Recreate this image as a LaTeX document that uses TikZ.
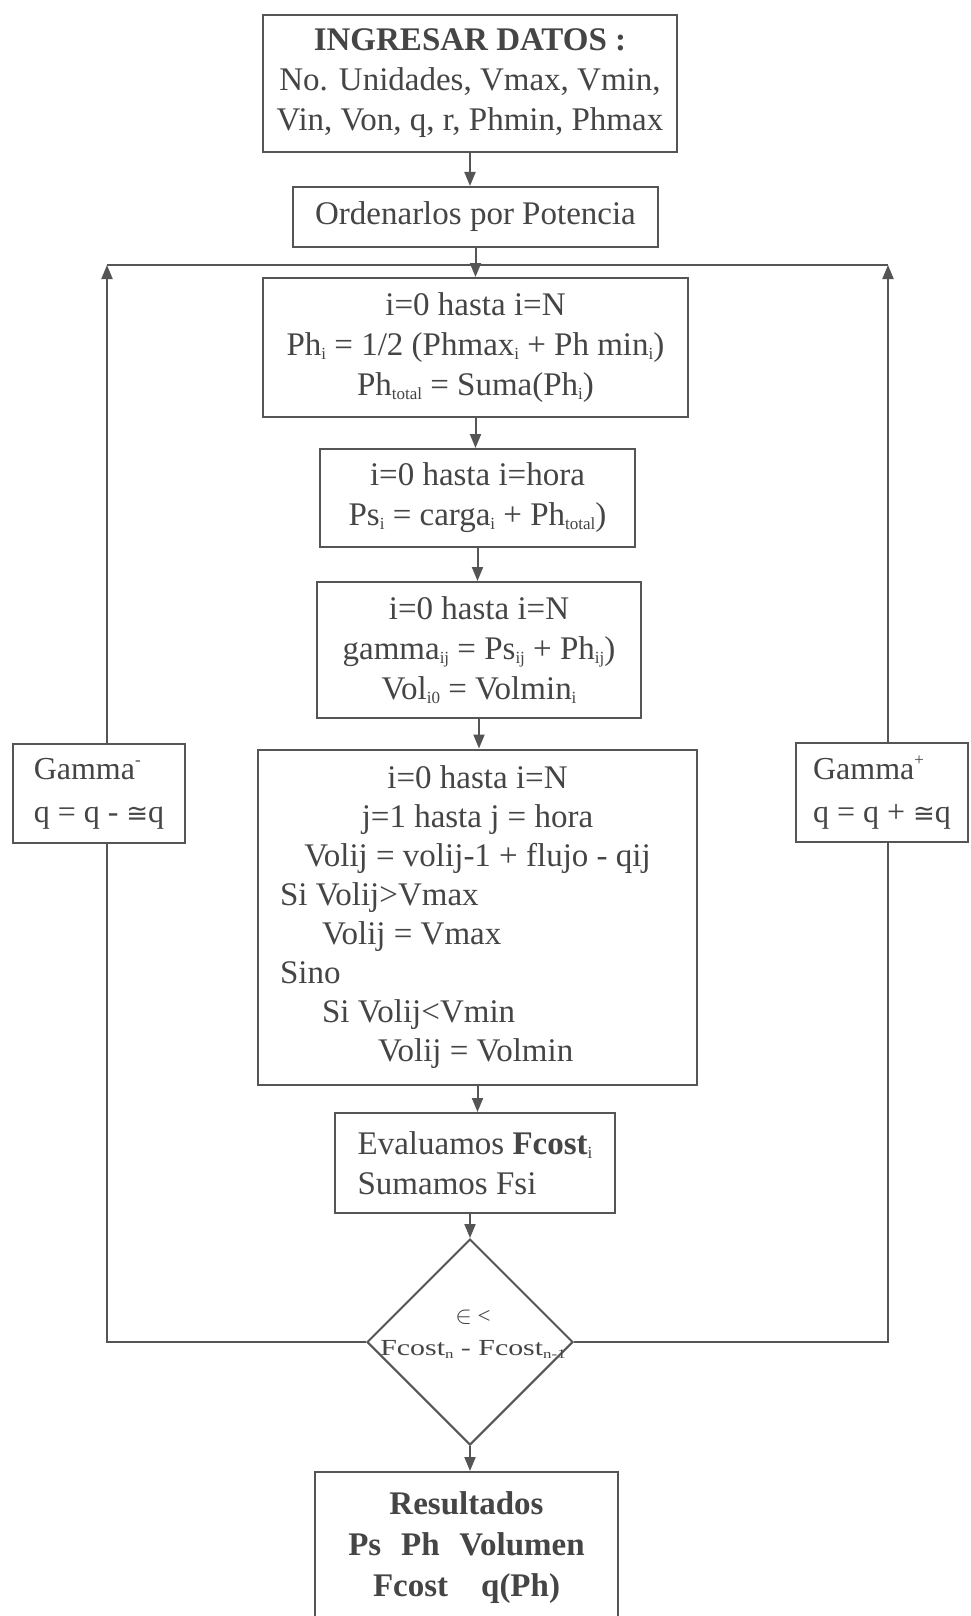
\documentclass[tikz,border=0pt]{standalone}
\usepackage{fontspec}
\setmainfont{Liberation Serif}
\newfontfamily\symf{DejaVu Sans}
\usepackage{graphicx}
\usetikzlibrary{shapes.geometric,arrows.meta}
\definecolor{ink}{HTML}{555555}
\definecolor{txt}{HTML}{454545}
\newcommand\lowi[1]{\raisebox{-0.25ex}{\fontsize{17}{17}\selectfont #1}}
\newcommand\lowj[1]{\raisebox{-0.25ex}{\fontsize{13}{13}\selectfont #1}}
\newcommand\upi[1]{\raisebox{0.9ex}{\fontsize{17}{17}\selectfont #1}}
\begin{document}
\begin{tikzpicture}[x=1pt,y=-1pt,
  box/.style={draw=ink, line width=2pt, text=txt, font=\fontsize{33}{40}\selectfont, align=center, inner sep=0pt},
  arr/.style={draw=ink, line width=2pt, -{Triangle[length=14pt,width=11pt]}},
  ln/.style={draw=ink, line width=2pt}]
\useasboundingbox (0,0) rectangle (970,1616);
\clip (0,0) rectangle (970,1616);
\fill[white] (0,0) rectangle (970,1616);

\node[box, minimum width=414pt, minimum height=137pt] (b1) at (470,83.5)
  {\textbf{INGRESAR DATOS :}\\No. Unidades, Vmax, Vmin,\\Vin, Von, q, r, Phmin, Phmax};
\node[box, minimum width=365pt, minimum height=60pt] (b2) at (475.5,217) {Ordenarlos por Potencia};
\node[box, minimum width=425pt, minimum height=139pt] (b3) at (475.5,347.5)
  {i=0 hasta i=N\\Ph\lowi{i} = 1/2 (Phmax\lowi{i} + Ph min\lowi{i})\\Ph\lowi{total} = Suma(Ph\lowi{i})};
\node[box, minimum width=315pt, minimum height=98pt] (b4) at (477.5,498)
  {i=0 hasta i=hora\\Ps\lowi{i} = carga\lowi{i} + Ph\lowi{total})};
\node[box, minimum width=324pt, minimum height=136pt] (b5) at (479,650)
  {i=0 hasta i=N\\gamma\lowi{ij} = Ps\lowi{ij} + Ph\lowi{ij})\\Vol\lowi{i0} = Volmin\lowi{i}};
\node[box, font=\fontsize{33}{39}\selectfont, minimum width=439pt, minimum height=335pt, text width=395pt, align=flush left] (b6) at (477.5,917)
  {{\centering i=0 hasta i=N\\ j=1 hasta j = hora\\ Volij = volij-1 + flujo - qij\par}
   Si Volij>Vmax\\ \hspace*{42pt}Volij = Vmax\\ Sino\\ \hspace*{42pt}Si Volij<Vmin\\ \hspace*{98pt}Volij = Volmin};
\node[box, minimum width=280pt, minimum height=100pt, align=flush left] (b7) at (475,1163)
  {Evaluamos \textbf{Fcost}\lowi{i}\\Sumamos Fsi};
\node[draw=ink, line width=2pt, diamond, aspect=1, minimum width=206pt, minimum height=206pt, inner sep=0pt] (dec) at (470,1342) {};
\node[text=txt, font=\fontsize{23}{32}\selectfont, align=center, inner sep=0pt] (dect) at (473,1334)
  {$\in$ <\\\scalebox{1.3}[1]{Fcost\lowj{n} - Fcost\lowj{n-1}}};
\node[box, font=\fontsize{33}{41}\selectfont\bfseries, minimum width=303pt, minimum height=152pt] (res) at (466.5,1548)
  {Resultados\\Ps\hspace{0.6em}Ph\hspace{0.6em}Volumen\\Fcost\hspace{1em}q(Ph)};
\node[box, font=\fontsize{32}{43}\selectfont, minimum width=172pt, minimum height=99pt, align=flush left] (gm) at (99,793.5)
  {Gamma\upi{-}\\q = q - {\symf\fontsize{26}{26}\selectfont ≅}q};
\node[box, font=\fontsize{32}{43}\selectfont, minimum width=172pt, minimum height=99pt, align=flush left] (gp) at (882,792.5)
  {Gamma\upi{+}\\q = q + {\symf\fontsize{26}{26}\selectfont ≅}q};

\coordinate (tl) at (107,265);
\coordinate (tr) at (888,265);

\draw[arr] (b1.south) -- (b1.south |- b2.north);
\draw[ln] (tl) -- (tr);
\draw[arr] (b2.south) -- (b3.north);
\draw[arr] (b3.south) -- (b3.south |- b4.north);
\draw[arr] (b4.south) -- (b4.south |- b5.north);
\draw[arr] (b5.south) -- (b5.south |- b6.north);
\draw[arr] (b6.south) -- (b6.south |- b7.north);
\draw[arr] (dec.north |- b7.south) -- (dec.north);
\draw[arr] (dec.south) -- (dec.south |- res.north);
\draw[ln] (dec.west) -| (gm.south -| tl);
\draw[arr] (gm.north -| tl) -- (tl);
\draw[ln] (dec.east) -| (gp.south -| tr);
\draw[arr] (gp.north -| tr) -- (tr);
\end{tikzpicture}
\end{document}
